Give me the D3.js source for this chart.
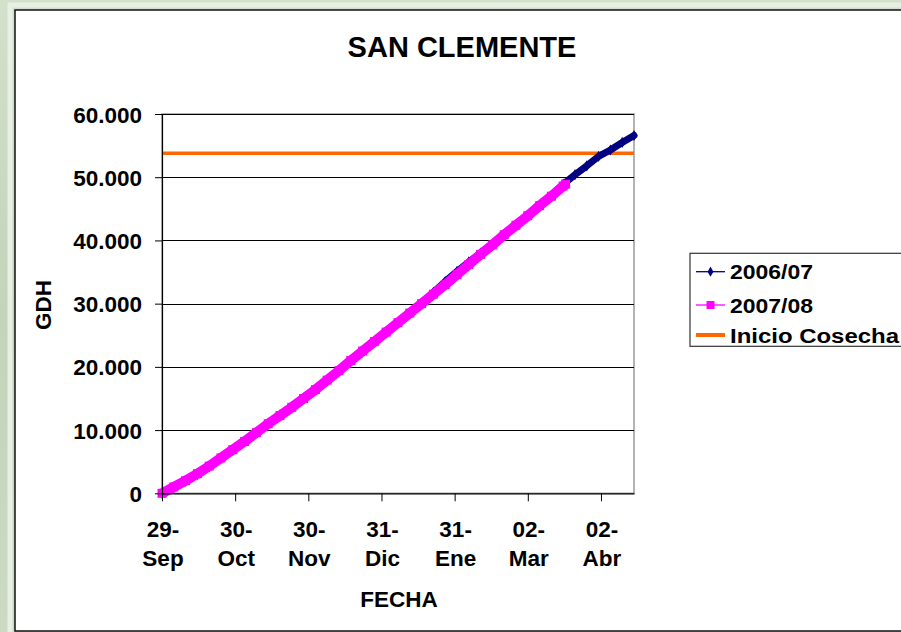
<!DOCTYPE html>
<html><head><meta charset="utf-8">
<script src="https://cdn.jsdelivr.net/npm/d3@7"></script>
<style>html,body{margin:0;padding:0;background:#cad9c1;}svg{display:block;}</style>
</head><body>
<script>
// ---- data ----
const tickDays = [0, 31, 62, 93, 124, 155, 186];
const tickLine1 = ["29-", "30-", "30-", "31-", "31-", "02-", "02-"];
const tickLine2 = ["Sep", "Oct", "Nov", "Dic", "Ene", "Mar", "Abr"];
const yTicks = [0, 10000, 20000, 30000, 40000, 50000, 60000];

const days0708 = [0,5,10,15,20,25,30,35,40,45,50,55,60,65,70,75,80,85,90,95,100,105,110,115,120,125,130,135,140,145,150,155,160,165,170,171];
const gdh0708  = [0,1000,2000,3100,4300,5600,6900,8200,9600,11000,12300,13600,15000,16400,17900,19400,21000,22500,24000,25500,27000,28500,30000,31500,33000,34600,36200,37800,39300,40900,42400,43900,45500,47000,48600,48900];

const days0607 = [0,5,10,15,20,25,30,35,40,45,50,55,60,65,70,75,80,85,90,95,100,105,110,115,120,125,130,135,140,145,150,155,160,165,170,175,180,185,190,195,200];
const gdh0607  = [0,900,1900,3000,4200,5500,6800,8200,9700,11100,12400,13700,15000,16400,17900,19400,20900,22400,23900,25400,26900,28500,30100,31800,33500,35100,36600,38000,39400,40900,42400,43900,45500,47100,48900,50400,51800,53300,54300,55500,56600];

const inicioCosecha = 53800;
const seriesNames = ["2006/07", "2007/08", "Inicio Cosecha"];
const colors = {s0607: "#000080", s0708: "#ff00ff", cosecha: "#ff6600"};

// ---- layout ----
const W = 901, H = 632;
const svg = d3.select("body").append("svg").attr("width", W).attr("height", H);

// background (slide)
const defs = svg.append("defs");
const g1 = defs.append("linearGradient").attr("id","bg").attr("x1","0").attr("y1","0").attr("x2","0").attr("y2","1");
g1.append("stop").attr("offset","0").attr("stop-color","#d3e0cb");
g1.append("stop").attr("offset","0.5").attr("stop-color","#c3d4ba");
g1.append("stop").attr("offset","1").attr("stop-color","#ccdac4");
svg.append("rect").attr("width", W).attr("height", H).attr("fill", "url(#bg)");

// chart area
svg.append("rect").attr("x", 10).attr("y", 5).attr("width", 920).attr("height", 640)
  .attr("fill", "none").attr("stroke", "#e8efe4").attr("stroke-width", 5);
svg.append("rect").attr("x", 15).attr("y", 10).attr("width", 910).attr("height", 621)
  .attr("fill", "#fff").attr("stroke", "#111").attr("stroke-width", 1.5);

const x = d3.scaleLinear().domain([0, 200]).range([162, 634]);
const y = d3.scaleLinear().domain([0, 60000]).range([493.3, 114]);

const font = "'Liberation Sans', Arial, sans-serif";

// plot border
svg.append("rect").attr("x", x(0)).attr("y", y(60000)).attr("width", x(200) - x(0)).attr("height", y(0) - y(60000))
  .attr("fill", "none").attr("stroke", "#9a9a9a").attr("stroke-width", 1.5);

// gridlines
svg.append("g").selectAll("line").data(yTicks.filter(d => d > 0)).join("line")
  .attr("x1", x(0)).attr("x2", x(200)).attr("y1", d => Math.round(y(d)) + 0.5).attr("y2", d => Math.round(y(d)) + 0.5)
  .attr("stroke", "#000").attr("stroke-width", 1);

// Inicio Cosecha
svg.append("line").attr("x1", x(0)).attr("x2", x(200)).attr("y1", y(inicioCosecha)).attr("y2", y(inicioCosecha))
  .attr("stroke", colors.cosecha).attr("stroke-width", 3.5);

const d0607 = days0607.map((d, i) => [d, gdh0607[i]]);
const d0708 = days0708.map((d, i) => [d, gdh0708[i]]);
const line = d3.line().x(d => x(d[0])).y(d => y(d[1]));

// 2006/07
svg.append("path").datum(d0607).attr("d", line).attr("fill", "none")
  .attr("stroke", colors.s0607).attr("stroke-width", 7).attr("stroke-linejoin", "round").attr("stroke-linecap", "round");
svg.append("g").selectAll("path").data(d0607).join("path")
  .attr("d", d3.symbol(d3.symbolDiamond, 36)())
  .attr("transform", d => `translate(${x(d[0])},${y(d[1])})`).attr("fill", colors.s0607);

// 2007/08
svg.append("path").datum(d0708).attr("d", line).attr("fill", "none")
  .attr("stroke", colors.s0708).attr("stroke-width", 10).attr("stroke-linejoin", "round");
svg.append("g").selectAll("rect").data(d0708).join("rect")
  .attr("x", d => x(d[0]) - 4.5).attr("y", d => y(d[1]) - 4.5).attr("width", 9).attr("height", 9)
  .attr("fill", colors.s0708);

// axes
const yAxis = d3.axisLeft(y).tickValues(yTicks).tickSize(7).tickSizeOuter(0)
  .tickFormat(d => d === 0 ? "0" : d3.format(",")(d).replace(/,/g, "."));
const ga = svg.append("g").attr("transform", `translate(${x(0)},0)`).call(yAxis);
ga.select(".domain").attr("stroke", "#000").attr("stroke-width", 1.2);
ga.selectAll(".tick line").attr("stroke", "#000");
ga.selectAll(".tick text").attr("x", -20).attr("dy", "0.36em")
  .attr("font-family", font).attr("font-size", 22.5).attr("font-weight", "bold").attr("fill", "#000");

const xAxis = d3.axisBottom(x).tickValues(tickDays).tickSize(8).tickSizeOuter(0).tickFormat("");
const gx = svg.append("g").attr("transform", `translate(0,${y(0)})`).call(xAxis);
gx.select(".domain").attr("stroke", "#000").attr("stroke-width", 1.2);
gx.selectAll(".tick line").attr("stroke", "#000");

const tl = svg.append("g").attr("font-family", font).attr("font-size", 22.5).attr("font-weight", "bold")
  .attr("text-anchor", "middle").attr("fill", "#000");
tl.selectAll("text.l1").data(tickDays).join("text").attr("class", "l1")
  .attr("x", d => x(d) + 1).attr("y", 537).text((d, i) => tickLine1[i]);
tl.selectAll("text.l2").data(tickDays).join("text").attr("class", "l2")
  .attr("x", d => x(d) + 1).attr("y", 566).text((d, i) => tickLine2[i]);

// titles
svg.append("text").attr("x", 462).attr("y", 56.7).attr("text-anchor", "middle")
  .attr("font-family", font).attr("font-size", 29).attr("font-weight", "bold").text("SAN CLEMENTE");
svg.append("text").attr("x", 399).attr("y", 607).attr("text-anchor", "middle")
  .attr("font-family", font).attr("font-size", 22.5).attr("font-weight", "bold").text("FECHA");
svg.append("text").attr("transform", "translate(50.7,305) rotate(-90)").attr("text-anchor", "middle")
  .attr("font-family", font).attr("font-size", 22.5).attr("font-weight", "bold").text("GDH");

// legend
const lg = svg.append("g");
lg.append("rect").attr("x", 690).attr("y", 253.3).attr("width", 260).attr("height", 93)
  .attr("fill", "#fff").attr("stroke", "#333").attr("stroke-width", 1.2);
const ly = [271.7, 305, 335];
const lw = [83, 83, 169];
seriesNames.forEach((name, i) => {
  const col = i === 0 ? colors.s0607 : i === 1 ? colors.s0708 : colors.cosecha;
  lg.append("line").attr("x1", 696).attr("x2", 725).attr("y1", ly[i]).attr("y2", ly[i])
    .attr("stroke", col).attr("stroke-width", i === 2 ? 4 : 1.3);
  if (i === 0) lg.append("path").attr("d", d3.symbol(d3.symbolDiamond, 30)())
    .attr("transform", `translate(710.5,${ly[i]})`).attr("fill", col);
  if (i === 1) lg.append("rect").attr("x", 706.5).attr("y", ly[i] - 4).attr("width", 8).attr("height", 8).attr("fill", col);
  lg.append("text").attr("x", 730).attr("y", ly[i] + 7.5)
    .attr("font-family", font).attr("font-size", 20).attr("font-weight", "bold")
    .attr("textLength", lw[i]).attr("lengthAdjust", "spacingAndGlyphs").text(name);
});
</script>
</body></html>
